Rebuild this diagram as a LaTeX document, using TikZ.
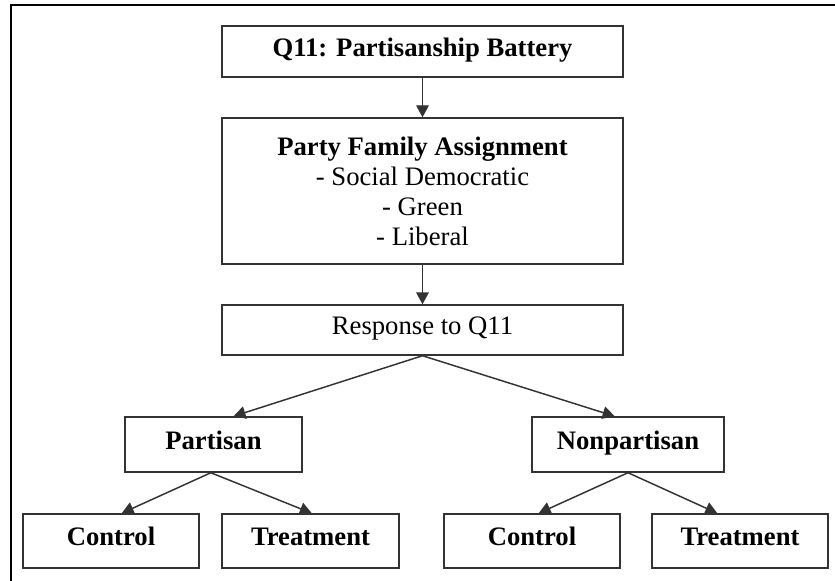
\documentclass[tikz,border=0pt]{standalone}
\usepackage{fontspec}
\setmainfont{Liberation Serif}
\usetikzlibrary{arrows.meta}
\begin{document}
\begin{tikzpicture}[x=0.75pt,y=-0.75pt,
  box/.style={draw=black!80,line width=1.1pt,inner sep=0pt,anchor=center,
    font=\fontsize{20}{22.5}\selectfont,align=center},
  one/.style={box,text height=0.8em,text depth=0.08em},
  conn/.style={draw=black!80,line width=1.1pt,-{Triangle[width=9.5pt,length=9pt]}}]
\useasboundingbox (0,0) rectangle (835,581);
\draw[line width=1.6pt,black] (835,5) -- (11,5) -- (11,581);
\node[one,minimum width=401*0.75pt,minimum height=51*0.75pt] (q11) at (422.5,51.5) {\textbf{Q11: Partisanship Battery}};
\node[box,minimum width=401*0.75pt,minimum height=146*0.75pt] (pfa) at (422.5,191) {\textbf{Party Family Assignment}\\- Social Democratic\\- Green\\- Liberal};
\node[one,minimum width=401*0.75pt,minimum height=50*0.75pt] (resp) at (422.5,330) {Response to Q11};
\node[one,minimum width=177*0.75pt,minimum height=55*0.75pt] (part) at (213.5,444.5) {\textbf{Partisan}};
\node[one,minimum width=192*0.75pt,minimum height=55*0.75pt] (nonp) at (628,444.5) {\textbf{Nonpartisan}};
\node[one,minimum width=176*0.75pt,minimum height=54*0.75pt] (cl) at (111,541) {\textbf{Control}};
\node[one,minimum width=177*0.75pt,minimum height=54*0.75pt] (tl) at (310.5,541) {\textbf{Treatment}};
\node[one,minimum width=176*0.75pt,minimum height=54*0.75pt] (cr) at (532,541) {\textbf{Control}};
\node[one,minimum width=176*0.75pt,minimum height=54*0.75pt] (tr) at (740,541) {\textbf{Treatment}};
\draw[conn] (q11.south) -- (pfa.north);
\draw[conn] (pfa.south) -- (resp.north);
\draw[conn] (resp.south) -- ([xshift=15pt]part.north);
\draw[conn] (resp.south) -- ([xshift=-10pt]nonp.north);
\draw[conn] ([xshift=-2pt]part.south) -- ([xshift=8pt]cl.north);
\draw[conn] ([xshift=-2pt]part.south) -- ([xshift=1pt]tl.north);
\draw[conn] (nonp.south) -- ([xshift=5pt]cr.north);
\draw[conn] (nonp.south) -- ([xshift=-17pt]tr.north);
\end{tikzpicture}
\end{document}
